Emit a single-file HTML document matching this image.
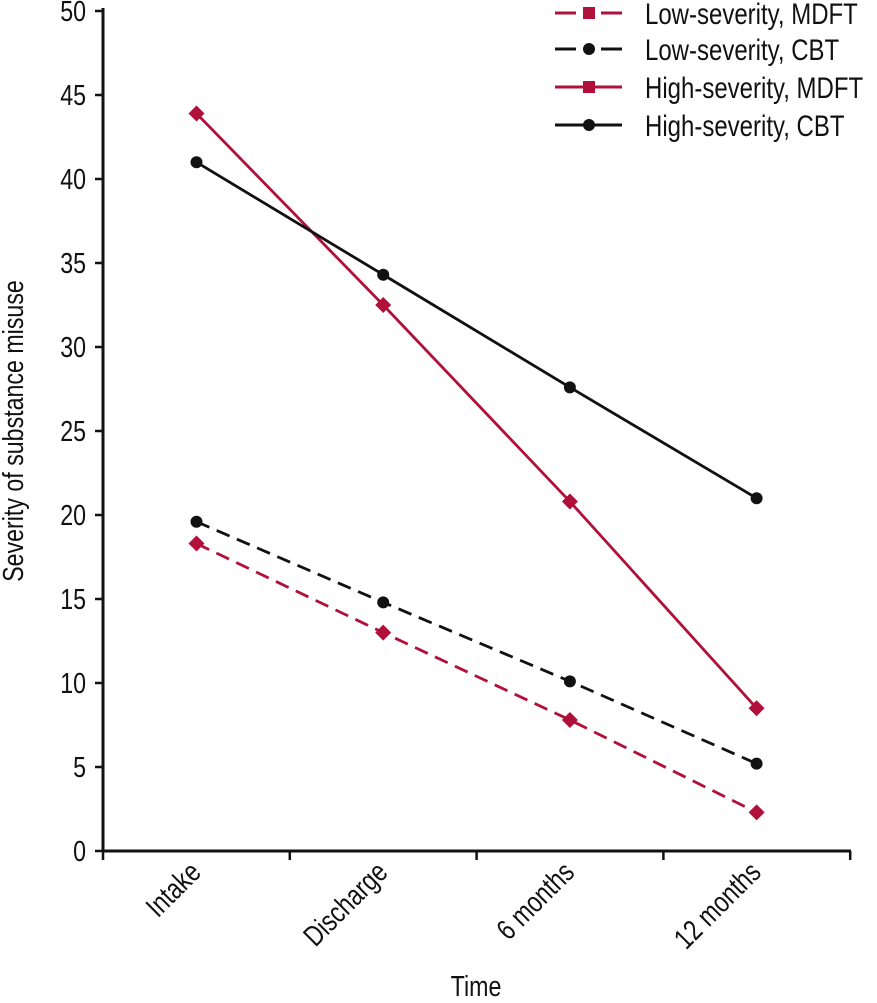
<!DOCTYPE html>
<html><head><meta charset="utf-8"><style>
body{margin:0;background:#fff}
svg text{font-family:"Liberation Sans",sans-serif;fill:#111}
</style></head><body>
<svg id="chart" width="877" height="998" xmlns="http://www.w3.org/2000/svg"></svg>
<script>
const categories=["Intake","Discharge","6 months","12 months"];
const yTicks=[0,5,10,15,20,25,30,35,40,45,50];
const lowMDFT=[18.3,13.0,7.8,2.3];
const lowCBT=[19.6,14.8,10.1,5.2];
const highMDFT=[43.9,32.5,20.8,8.5];
const highCBT=[41.0,34.3,27.6,21.0];
const seriesNames=["Low-severity, MDFT","Low-severity, CBT","High-severity, MDFT","High-severity, CBT"];

const svg=document.getElementById('chart');
const NS="http://www.w3.org/2000/svg";
const RED="#b0103a";
const SX=0.8;
function y(v){return 851-v*16.8;}
function x(i){return 196.5+i*186.7;}
function mk(tag,attrs,parent){const e=document.createElementNS(NS,tag);for(const k in attrs)e.setAttribute(k,attrs[k]);(parent||svg).appendChild(e);return e;}
function txt(str,tx,ty,rot,anchor,size,parent){
  const t=mk('text',{x:0,y:0,'text-anchor':anchor,'font-size':size,transform:`translate(${tx} ${ty}) rotate(${rot}) scale(${SX} 1)`},parent);
  t.textContent=str;return t;
}

let g=mk('g',{});


mk('line',{x1:103,y1:8,x2:103,y2:852,stroke:'#111','stroke-width':3},g);
yTicks.forEach(t=>{
  mk('line',{x1:95,y1:y(t),x2:103,y2:y(t),stroke:'#111','stroke-width':2.5},g);
  const tx=txt(String(t),86,y(t)+10,0,'end',29,g);
  
  
});
let gx=mk('g',{});


mk('line',{x1:102,y1:851,x2:851,y2:851,stroke:'#111','stroke-width':3},gx);
for(let i=0;i<=4;i++){const tx0=103+i*186.8;mk('line',{x1:tx0,y1:851,x2:tx0,y2:860,stroke:'#111','stroke-width':2.5},gx);}
categories.forEach((c,i)=>{
  const t=txt(c,x(i)+6,874,-45,'end',29,gx);
  
  
});
let yt=txt('Severity of substance misuse',23,431,-90,'middle',29);


let xt=txt('Time',476,996,0,'middle',29);



function diamond(cx,cy,p){const r=8;mk('polygon',{points:`${cx},${cy-r} ${cx+r},${cy} ${cx},${cy+r} ${cx-r},${cy}`,fill:RED},p);}
function dot(cx,cy,p){mk('circle',{cx:cx,cy:cy,r:6,fill:'#111'},p);}
const series=[
 {vals:lowMDFT,color:RED,dash:'14 8',m:'d',name:'series-low-mdft'},
 {vals:lowCBT,color:'#111',dash:'14 8',m:'c',name:'series-low-cbt'},
 {vals:highMDFT,color:RED,dash:'',m:'d',name:'series-high-mdft'},
 {vals:highCBT,color:'#111',dash:'',m:'c',name:'series-high-cbt'}];
series.forEach(s=>{
  const sg=mk('g',{});
  
  
  mk('polyline',{points:s.vals.map((v,i)=>`${x(i)},${y(v)}`).join(' '),fill:'none',stroke:s.color,'stroke-width':2.8,'stroke-dasharray':s.dash},sg);
  s.vals.forEach((v,i)=>s.m==='d'?diamond(x(i),y(v),sg):dot(x(i),y(v),sg));
});
const lg=mk('g',{});


const ly=[13,49,87,125];
series.forEach((s,i)=>{
  const eg=mk('g',{},lg);
  
  
  if(s.dash){mk('line',{x1:555,y1:ly[i],x2:576,y2:ly[i],stroke:s.color,'stroke-width':3},eg);mk('line',{x1:601,y1:ly[i],x2:622,y2:ly[i],stroke:s.color,'stroke-width':3},eg);}
  else mk('line',{x1:555,y1:ly[i],x2:622,y2:ly[i],stroke:s.color,'stroke-width':3},eg);
  if(s.m==='d')mk('rect',{x:583,y:ly[i]-6,width:12,height:12,fill:RED},eg);
  else mk('circle',{cx:589,cy:ly[i],r:6,fill:'#111'},eg);
  txt(seriesNames[i],645,ly[i]+11,0,'start',30,eg);
});
</script>
</body></html>
